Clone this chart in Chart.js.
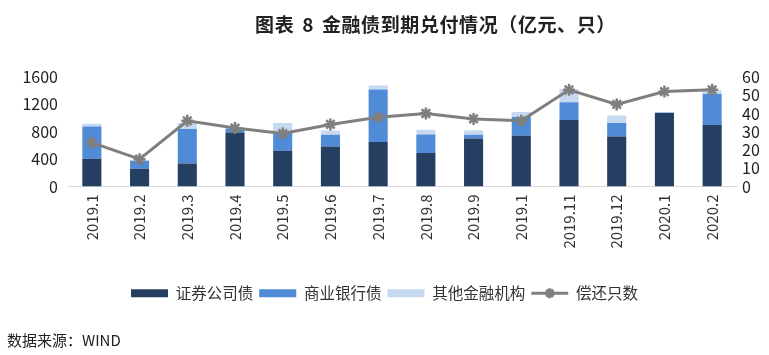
<!DOCTYPE html>
<html>
<head>
<meta charset="utf-8">
<script src="https://cdn.jsdelivr.net/npm/chart.js@4.4.1/dist/chart.umd.min.js"></script>
<style>
  html, body { margin: 0; padding: 0; background: #ffffff; }
  #wrap { position: relative; width: 769px; height: 355px; overflow: hidden; }
  #title { position: absolute; left: 0; width: 769px; top: 10px; text-align: center; padding-left: 102px; box-sizing: border-box;
           font-family: "Noto Sans CJK SC", sans-serif; font-weight: bold; font-size: 19px; color: #222; letter-spacing: 0.6px; word-spacing: 3px; }
  #source { position: absolute; left: 7px; top: 329px; font-family: "Noto Sans CJK SC", sans-serif; font-size: 15px; color: #222; }
  #c { position: absolute; left: 0; top: 0; }
</style>
</head>
<body>
<div id="wrap">
  <canvas id="c" width="769" height="355"></canvas>
  <div id="title">图表 8 金融债到期兑付情况（亿元、只）</div>
  <div id="source">数据来源：WIND</div>
</div>
<script>
const categories = ["2019.1","2019.2","2019.3","2019.4","2019.5","2019.6","2019.7","2019.8","2019.9","2019.1","2019.11","2019.12","2020.1","2020.2"];
const securitiesDebt = [405, 259, 337, 790, 523, 586, 650, 489, 703, 742, 972, 732, 1075, 899];
const bankDebt       = [473, 117, 503,  59, 267, 171, 766, 272,  54, 274, 258, 196,    6, 454];
const otherDebt      = [ 40,   8,  88,  15, 138,  63,  58,  69,  63,  73, 196, 111,    0,  52];
const repayCount     = [ 24,  15,  36,  32,  29,  34,  38,  40,  37,  36,  53,  45,   52,  53];
const leftTicks = [0, 400, 800, 1200, 1600];
const rightTicks = [0, 10, 20, 30, 40, 50, 60];

const FONT = "Noto Sans CJK SC";
const C_DARK = "#243f62", C_MID = "#4f8bd6", C_LIGHT = "#c6d9f0", C_LINE = "#7f7f7f";
const LINE_INDEX = 3;

const legendLinePlugin = {
  id: "legendLine",
  afterDraw(chart) {
    const lg = chart.legend;
    if (!lg || !lg.legendHitBoxes || !lg.legendItems) return;
    const idx = lg.legendItems.findIndex(it => it.datasetIndex === LINE_INDEX);
    const hb = lg.legendHitBoxes[idx];
    if (!hb) return;
    const ctx = chart.ctx;
    const bw = lg.options.labels.boxWidth;
    const cy = hb.top + hb.height / 2;
    ctx.save();
    ctx.strokeStyle = C_LINE; ctx.lineWidth = 3;
    ctx.beginPath(); ctx.moveTo(hb.left, cy); ctx.lineTo(hb.left + bw, cy); ctx.stroke();
    ctx.strokeStyle = C_LINE; ctx.fillStyle = C_LINE;
    Chart.helpers.drawPoint(ctx, {pointStyle: "star", radius: 5, borderWidth: 2}, hb.left + bw / 2, cy);
    ctx.restore();
  }
};

new Chart(document.getElementById("c"), {
  type: "bar",
  data: {
    labels: categories,
    datasets: [
      { label: "证券公司债", data: securitiesDebt, backgroundColor: C_DARK, stack: "s", yAxisID: "y", order: 2 },
      { label: "商业银行债", data: bankDebt, backgroundColor: C_MID, stack: "s", yAxisID: "y", order: 2 },
      { label: "其他金融机构", data: otherDebt, backgroundColor: C_LIGHT, stack: "s", yAxisID: "y", order: 2 },
      { label: "偿还只数", type: "line", data: repayCount, yAxisID: "y1", order: 1,
        borderColor: C_LINE, backgroundColor: C_LINE, borderWidth: 3,
        pointStyle: "star", pointRadius: 6, pointBorderWidth: 2.5, pointBorderColor: C_LINE,
        tension: 0 }
    ]
  },
  plugins: [legendLinePlugin],
  options: {
    responsive: false,
    animation: false,
    layout: { padding: { top: 77, bottom: 44, left: 0, right: 0 } },
    datasets: { bar: { barPercentage: 0.4, categoryPercentage: 1.0 } },
    plugins: {
      title: { display: false },
      tooltip: { enabled: false },
      legend: {
        position: "bottom",
        labels: {
          boxWidth: 37, boxHeight: 8, padding: 6,
          color: "#333", font: { family: FONT, size: 15.5 },
          sort: (a, b) => a.datasetIndex - b.datasetIndex,
          generateLabels(chart) {
            const items = Chart.defaults.plugins.legend.labels.generateLabels(chart);
            items.forEach(it => {
              it.lineWidth = 0;
              it.strokeStyle = "rgba(0,0,0,0)";
              if (it.datasetIndex === LINE_INDEX) it.fillStyle = "rgba(0,0,0,0)";
            });
            return items;
          }
        }
      }
    },
    scales: {
      x: {
        stacked: true,
        offset: true,
        grid: { display: false, drawTicks: false },
        border: { display: true, color: "#d9d9d9", width: 1 },
        ticks: { color: "#333", font: { family: FONT, size: 15 }, maxRotation: 90, minRotation: 90, padding: 8, autoSkip: false },
        afterFit(scale) { scale.height = 93; }
      },
      y: {
        stacked: true,
        position: "left",
        min: 0, max: 1600,
        afterBuildTicks(scale) { scale.ticks = leftTicks.map(v => ({ value: v })); },
        grid: { display: false, drawTicks: false },
        border: { display: false },
        ticks: { color: "#222", font: { family: FONT, size: 16 }, padding: 10, autoSkip: false, callback: v => String(v) },
        afterFit(scale) { scale.width = 68; }
      },
      y1: {
        position: "right",
        min: 0, max: 60,
        afterBuildTicks(scale) { scale.ticks = rightTicks.map(v => ({ value: v })); },
        grid: { display: false, drawTicks: false },
        border: { display: false },
        ticks: { color: "#222", font: { family: FONT, size: 16 }, padding: 6, autoSkip: false, callback: v => String(v) },
        afterFit(scale) { scale.width = 33; }
      }
    }
  }
});
</script>
</body>
</html>
